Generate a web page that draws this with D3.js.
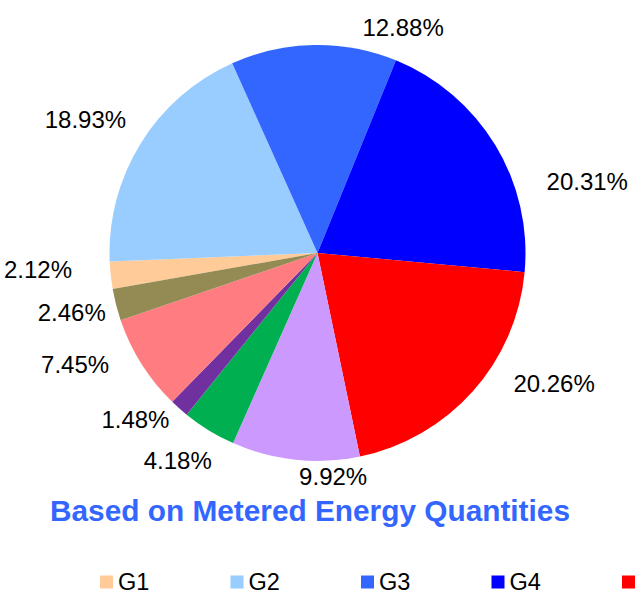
<!DOCTYPE html>
<html>
<head>
<meta charset="utf-8">
<script src="https://cdn.jsdelivr.net/npm/d3@7/dist/d3.min.js"></script>
<style>
  html, body { margin: 0; padding: 0; background: #fff; }
  svg { display: block; font-family: Arial, "Liberation Sans", sans-serif; }
</style>
</head>
<body>
<svg id="chart" width="638" height="603"></svg>
<script>
// Generator groups and their share of metered energy (%)
const groups = ["G1", "G2", "G3", "G4", "G5", "G6", "G7", "G8", "G9", "G10"];
const shares = [2.12, 18.93, 12.88, 20.31, 20.26, 9.92, 4.18, 1.48, 7.45, 2.46];
const colors = ["#FFCC99", "#99CCFF", "#3366FF", "#0000FF", "#FF0000",
                "#CC99FF", "#00B050", "#7030A0", "#FF7C80", "#948A54"];
const title = "Based on Metered Energy Quantities";

// Label placement: [angle in degrees clockwise from 12 o'clock, distance from centre]
const labelPlacement = [
  [266.7, 280], [300.0, 268], [20.8, 241], [75.2, 279], [118.8, 270],
  [176.0, 224], [214.0, 250], [227.5, 247], [245.2, 267], [256.3, 253]
];

const W = 638, H = 603;
const svg = d3.select("#chart");
const cx = 317.5, cy = 253, radius = 208;
const firstSliceAngle = -100; // degrees

const data = groups.map((g, i) => ({ group: g, value: shares[i], color: colors[i] }));

const pie = d3.pie()
  .sort(null)
  .value(d => d.value)
  .startAngle(firstSliceAngle * Math.PI / 180)
  .endAngle((firstSliceAngle + 360) * Math.PI / 180);

const arc = d3.arc().innerRadius(0).outerRadius(radius);

const gPie = svg.append("g").attr("transform", `translate(${cx},${cy})`);

const arcs = pie(data);

gPie.selectAll("path.slice")
  .data(arcs)
  .join("path")
  .attr("class", "slice")
  .attr("d", arc)
  .attr("fill", d => d.data.color);

// Percentage labels outside the pie
const fmt = d3.format(".2f");
gPie.selectAll("text.pct")
  .data(arcs)
  .join("text")
  .attr("class", "pct")
  .attr("x", (d, i) => labelPlacement[i][1] * Math.sin(labelPlacement[i][0] * Math.PI / 180))
  .attr("y", (d, i) => -labelPlacement[i][1] * Math.cos(labelPlacement[i][0] * Math.PI / 180))
  .attr("text-anchor", "middle")
  .attr("dominant-baseline", "central")
  .attr("font-size", 24)
  .attr("fill", "#000")
  .text(d => fmt(d.data.value) + "%");

// Title under the pie
svg.append("text")
  .attr("x", 310)
  .attr("y", 521)
  .attr("text-anchor", "middle")
  .attr("font-size", 29.8)
  .attr("font-weight", "bold")
  .attr("fill", "#3366FF")
  .text(title);

// Legend row: the row is wider than the chart, so only entries that fit are drawn
const legendX = d3.scalePoint().domain(groups).range([100, 100 + 130.5 * (groups.length - 1)]);
const swatch = 13, textGap = 18;
const legend = svg.append("g").attr("transform", "translate(0,582)");
const item = legend.selectAll("g.item")
  .data(data.filter(d => legendX(d.group) + swatch <= W))
  .join("g")
  .attr("class", "item")
  .attr("transform", d => `translate(${legendX(d.group)},0)`);

item.append("rect")
  .attr("x", 0)
  .attr("y", -6.5)
  .attr("width", swatch)
  .attr("height", swatch)
  .attr("fill", d => d.color);

item.filter(d => legendX(d.group) + textGap + 34 <= W)
  .append("text")
  .attr("x", textGap)
  .attr("y", 0)
  .attr("dominant-baseline", "central")
  .attr("font-size", 23.5)
  .attr("fill", "#000")
  .text(d => d.group);
</script>
</body>
</html>
